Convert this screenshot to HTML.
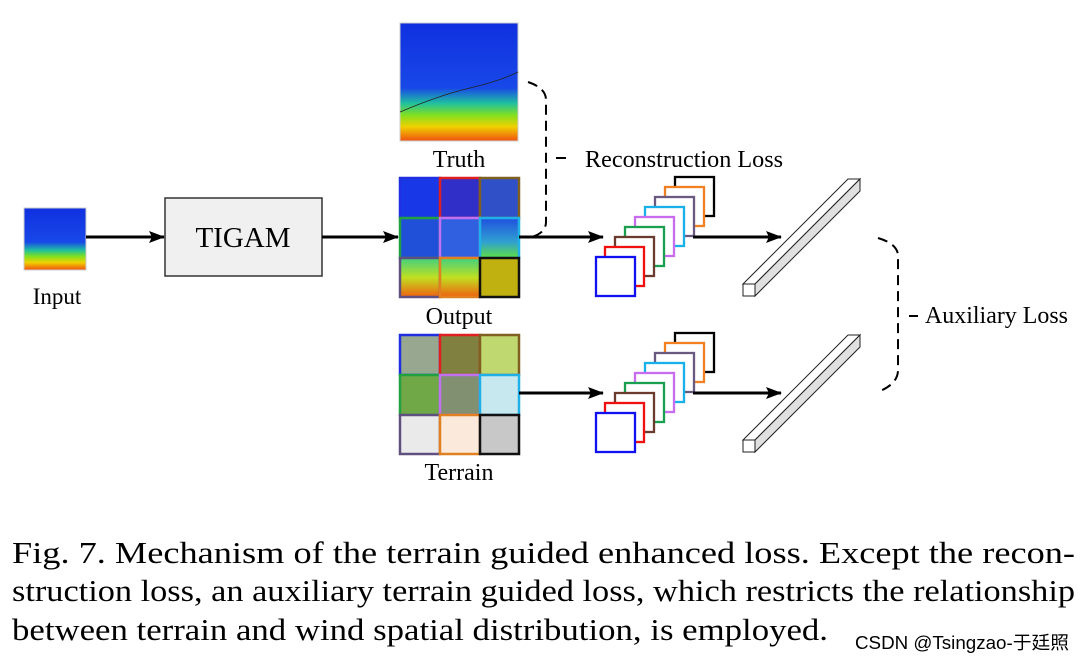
<!DOCTYPE html>
<html><head><meta charset="utf-8"><style>
html,body{margin:0;padding:0;background:#fff;}
svg{display:block;}
text{font-family:"Liberation Serif","Noto Serif CJK SC",serif;fill:#000;}
</style></head><body>
<svg width="1083" height="666" viewBox="0 0 1083 666" xmlns="http://www.w3.org/2000/svg">
<defs>
<marker id="ar" markerWidth="16" markerHeight="12" refX="15" refY="6" orient="auto" markerUnits="userSpaceOnUse">
<path d="M0,0 L16,6 L0,12 L3,6 Z" fill="#000"/></marker>
<linearGradient id="wind" x1="0" y1="0" x2="0" y2="1">
<stop offset="0" stop-color="#1030e0"/><stop offset="0.55" stop-color="#1848e8"/>
<stop offset="0.68" stop-color="#20c0a0"/><stop offset="0.78" stop-color="#80e020"/>
<stop offset="0.88" stop-color="#f0d000"/><stop offset="1" stop-color="#f05010"/></linearGradient>
<linearGradient id="r2c" x1="0" y1="0" x2="0" y2="1"><stop offset="0" stop-color="#2050e0"/><stop offset="0.6" stop-color="#30a0d0"/><stop offset="1" stop-color="#60e040"/></linearGradient>
<linearGradient id="r3" x1="0" y1="0" x2="0" y2="1"><stop offset="0" stop-color="#40d080"/><stop offset="0.5" stop-color="#c0e020"/><stop offset="1" stop-color="#f06010"/></linearGradient>
</defs>

<rect x="24" y="208" width="62" height="62" fill="url(#wind)" stroke="#ccc"/>
<text x="57" y="304" font-size="23" text-anchor="middle">Input</text>
<line x1="86" y1="237" x2="164" y2="237" stroke="#000" stroke-width="3" marker-end="url(#ar)"/>

<rect x="165" y="198" width="157" height="78" fill="#f0f0f0" stroke="#333" stroke-width="1.5"/>
<text x="243" y="247" font-size="29" text-anchor="middle">TIGAM</text>
<line x1="322" y1="237" x2="398" y2="237" stroke="#000" stroke-width="3" marker-end="url(#ar)"/>

<rect x="400" y="23" width="118" height="118" fill="url(#wind)" stroke="#ccc"/>
<path d="M400,112 Q440,95 470,88 T518,72" stroke="#222" fill="none" stroke-width="0.8"/>
<text x="459" y="167" font-size="24" text-anchor="middle">Truth</text>

<g stroke-width="2.5">
<rect x="400" y="178" width="40" height="40" fill="#1838e8" stroke="#2030e0"/>
<rect x="440" y="178" width="40" height="40" fill="#3030c8" stroke="#e02020"/>
<rect x="480" y="178" width="39" height="40" fill="#3050c8" stroke="#806020"/>
<rect x="400" y="218" width="40" height="40" fill="#2050d8" stroke="#20a040"/>
<rect x="440" y="218" width="40" height="40" fill="#3060e0" stroke="#c070f0"/>
<rect x="480" y="218" width="39" height="40" fill="url(#r2c)" stroke="#20b0e8"/>
<rect x="400" y="258" width="40" height="39" fill="url(#r3)" stroke="#605080"/>
<rect x="440" y="258" width="40" height="39" fill="url(#r3)" stroke="#e08020"/>
<rect x="480" y="258" width="39" height="39" fill="#c0b010" stroke="#111"/>
</g>
<text x="459" y="324" font-size="24" text-anchor="middle">Output</text>

<g stroke-width="2.5">
<rect x="400" y="335" width="40" height="40" fill="#98a890" stroke="#2030e0"/>
<rect x="440" y="335" width="40" height="40" fill="#808040" stroke="#e02020"/>
<rect x="480" y="335" width="39" height="40" fill="#c0d870" stroke="#806020"/>
<rect x="400" y="375" width="40" height="40" fill="#70a848" stroke="#20a040"/>
<rect x="440" y="375" width="40" height="40" fill="#809070" stroke="#c070f0"/>
<rect x="480" y="375" width="39" height="40" fill="#c8e8f0" stroke="#20b0e8"/>
<rect x="400" y="415" width="40" height="39" fill="#eaeaea" stroke="#605080"/>
<rect x="440" y="415" width="40" height="39" fill="#fbeadc" stroke="#e08020"/>
<rect x="480" y="415" width="39" height="39" fill="#c8c8c8" stroke="#111"/>
</g>
<text x="459" y="480" font-size="24" text-anchor="middle">Terrain</text>

<path d="M528,82 Q546,88 546,100 L546,222 Q546,234 528,238" fill="none" stroke="#000" stroke-width="2" stroke-dasharray="10,6"/>
<line x1="556" y1="158" x2="566" y2="158" stroke="#000" stroke-width="2"/>
<text x="585" y="167" font-size="24" textLength="198" lengthAdjust="spacingAndGlyphs">Reconstruction Loss</text>

<line x1="519" y1="237" x2="603" y2="237" stroke="#000" stroke-width="3" marker-end="url(#ar)"/>
<line x1="519" y1="393" x2="603" y2="393" stroke="#000" stroke-width="3" marker-end="url(#ar)"/>

<g fill="#fff" stroke-width="2.3">
<g id="stk">
<rect x="675" y="177" width="39" height="39" stroke="#000"/>
<rect x="665" y="187" width="39" height="39" stroke="#f08020"/>
<rect x="655" y="197" width="39" height="39" stroke="#6a5a80"/>
<rect x="645" y="207" width="39" height="39" stroke="#18b0e8"/>
<rect x="635" y="217" width="39" height="39" stroke="#c86cf0"/>
<rect x="625" y="227" width="39" height="39" stroke="#18a050"/>
<rect x="615" y="237" width="39" height="39" stroke="#6b3b2e"/>
<rect x="605" y="247" width="39" height="39" stroke="#f01010"/>
<rect x="596" y="257" width="39" height="39" stroke="#1010f0"/>
</g>
<use href="#stk" y="156"/>
</g>
<line x1="693" y1="237" x2="781" y2="237" stroke="#000" stroke-width="3" marker-end="url(#ar)"/>
<line x1="693" y1="393" x2="781" y2="393" stroke="#000" stroke-width="3" marker-end="url(#ar)"/>

<g id="bar" stroke="#222" stroke-width="1">
<polygon points="743,284 848,179 860,179 755,284" fill="#fff"/>
<polygon points="755,284 860,179 860,191 755,296" fill="#e0e0e0"/>
<rect x="743" y="284" width="12" height="12" fill="#fff"/>
</g>
<use href="#bar" y="156"/>

<path d="M878,238 Q898,244 898,256 L898,370 Q898,384 878,392" fill="none" stroke="#000" stroke-width="2" stroke-dasharray="10,6"/>
<line x1="909" y1="316" x2="918" y2="316" stroke="#000" stroke-width="2"/>
<text x="925" y="323" font-size="24" textLength="143" lengthAdjust="spacingAndGlyphs">Auxiliary Loss</text>

<text x="12" y="563" font-size="31" textLength="1063" lengthAdjust="spacingAndGlyphs">Fig. 7.  Mechanism of the terrain guided enhanced loss. Except the recon-</text>
<text x="12" y="601" font-size="31" textLength="1063" lengthAdjust="spacingAndGlyphs">struction loss, an auxiliary terrain guided loss, which restricts the relationship</text>
<text x="12" y="640" font-size="31" textLength="816" lengthAdjust="spacingAndGlyphs">between terrain and wind spatial distribution, is employed.</text>
<text x="855" y="649" font-size="18" textLength="214" lengthAdjust="spacingAndGlyphs" style="font-family:'Liberation Sans','Noto Sans CJK SC',sans-serif" fill="#999">CSDN @Tsingzao-于廷照</text>
</svg>
</body></html>
